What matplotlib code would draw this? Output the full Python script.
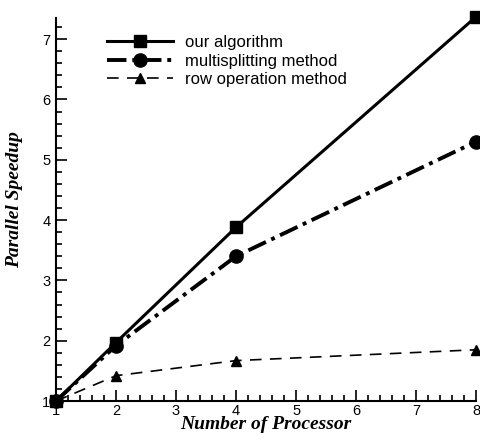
import matplotlib
matplotlib.use('Agg')
from matplotlib import pyplot as plt
from matplotlib.ticker import MultipleLocator

processors = [1, 2, 4, 8]
our_algorithm = [1.0, 1.97, 3.88, 7.37]
multisplitting = [1.0, 1.92, 3.40, 5.30]
row_operation = [1.0, 1.42, 1.67, 1.85]

plt.rcParams['font.family'] = ['Liberation Sans', 'DejaVu Sans']

fig = plt.figure(figsize=(4.8, 4.34), dpi=100)
ax = fig.add_axes([0.1167, 0.076, 0.875, 0.8825])

ax.plot(processors, our_algorithm, color='black', lw=2.2, ls='-', marker='s',
        ms=8, label='our algorithm', clip_on=False, zorder=3)
ax.plot(processors, multisplitting, color='black', lw=2.8, ls=(0, (5, 1.5, 1, 1.5)),
        marker='o', ms=9.5, label='multisplitting method', clip_on=False, zorder=3)
ax.plot(processors, row_operation, color='black', lw=1.2, ls=(0, (7, 5)), marker='^',
        ms=7, label='row operation method', clip_on=False, zorder=3)

ax.set_xlim(1, 8)
ax.set_ylim(1, 7.35)
ax.xaxis.set_major_locator(MultipleLocator(1))
ax.xaxis.set_minor_locator(MultipleLocator(0.2))
ax.yaxis.set_major_locator(MultipleLocator(1))
ax.yaxis.set_minor_locator(MultipleLocator(0.2))
ax.tick_params(which='both', direction='in', width=1.2, labelsize=10.5)
ax.tick_params(axis='x', pad=2)
ax.tick_params(axis='y', pad=4)
ax.tick_params(which='major', length=8)
ax.tick_params(which='minor', length=4)
ax.spines['top'].set_visible(False)
ax.spines['right'].set_visible(False)
ax.spines['left'].set_linewidth(1.5)
ax.spines['bottom'].set_linewidth(1.5)

label_font = dict(family='Liberation Serif', weight='bold', style='italic', size=14)
ax.set_xlabel('Number of Processor', fontdict=label_font)
ax.set_ylabel('Parallel Speedup', fontdict=label_font)
ax.xaxis.set_label_coords(0.5, -0.039)
ax.yaxis.set_label_coords(-0.079, 0.525)

ax.legend(loc='upper left', bbox_to_anchor=(0.085, 0.995), frameon=False, fontsize=12,
          handlelength=4.0, handletextpad=0.7, labelspacing=0.22)

fig.savefig('out.png', dpi=100)
